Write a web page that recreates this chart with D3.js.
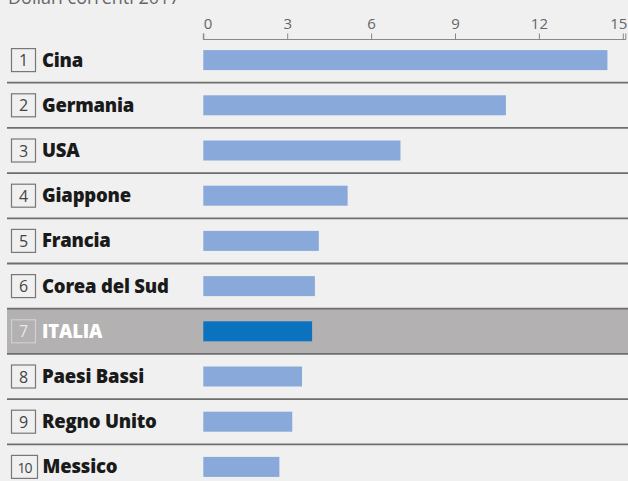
<!DOCTYPE html>
<html>
<head>
<meta charset="utf-8">
<script src="https://cdn.jsdelivr.net/npm/d3@7"></script>
<style>
  body { margin: 0; background: #f0f0f0; }
  svg { display: block; }
</style>
</head>
<body>
<div id="chart-area"></div>
<script>
// Dati: esportazioni, dollari correnti 2017
var ranks = [1, 2, 3, 4, 5, 6, 7, 8, 9, 10];
var countries = ["Cina", "Germania", "USA", "Giappone", "Francia", "Corea del Sud", "ITALIA", "Paesi Bassi", "Regno Unito", "Messico"];
var values = [14.45, 10.82, 7.05, 5.16, 4.13, 3.99, 3.89, 3.53, 3.18, 2.72];
var ticks = [0, 3, 6, 9, 12, 15];
var highlight = "ITALIA";
var subtitle = "Dollari correnti 2017";

var width = 628, height = 481;

var data = countries.map((c, i) => ({ rank: ranks[i], name: c, value: values[i] }));

var svg = d3.select("#chart-area")
	.append("svg")
		.attr("width", width)
		.attr("height", height);

svg.append("rect")
	.attr("width", width)
	.attr("height", height)
	.attr("fill", "#f0f0f0");

svg.append("text")
	.attr("x", 8)
	.attr("y", 4)
	.attr("font-family", "'Open Sans', sans-serif")
	.attr("font-size", "18px")
	.attr("fill", "#666")
	.text(subtitle);

var x = d3.scaleLinear()
	.domain([0, 15])
	.range([203.3, 622.8]);

var y = d3.scaleBand()
	.domain(countries)
	.range([37.5, 37.5 + 45.2 * countries.length])
	.padding(0);

// highlighted row
svg.append("rect")
	.attr("x", 7)
	.attr("y", y(highlight))
	.attr("width", width - 7)
	.attr("height", y.bandwidth())
	.attr("fill", "#b3b1b1");

// separators
svg.selectAll("line.sep")
	.data(countries.slice(0, -1))
	.enter()
	.append("line")
		.attr("class", "sep")
		.attr("x1", 7)
		.attr("x2", width)
		.attr("y1", d => y(d) + y.bandwidth())
		.attr("y2", d => y(d) + y.bandwidth())
		.attr("stroke", "#6e6e6e")
		.attr("stroke-width", 1.8);

// axis
var xAxis = d3.axisTop(x)
	.tickValues(ticks)
	.tickSize(6)
	.tickPadding(5);

var axisG = svg.append("g")
	.attr("transform", "translate(0, 39.5)")
	.call(xAxis);

axisG.select(".domain")
	.attr("d", `M${x(0)},-6V0H${x(15) + 3}V-6`)
	.attr("stroke", "#888");
axisG.selectAll(".tick line").attr("stroke", "#888");
axisG.selectAll(".tick text")
	.attr("font-family", "'Open Sans', sans-serif")
	.attr("font-size", "15px")
	.attr("fill", "#666")
	.attr("text-anchor", d => d === 0 ? "start" : d === 15 ? "end" : "middle")
	.attr("dx", d => d === 15 ? "4" : "0");

// bars
svg.selectAll("rect.bar")
	.data(data)
	.enter()
	.append("rect")
		.attr("class", "bar")
		.attr("x", x(0))
		.attr("y", d => y(d.name) + y.bandwidth() / 2 - 10)
		.attr("width", d => x(d.value) - x(0))
		.attr("height", 20)
		.attr("fill", d => d.name === highlight ? "#0b72bf" : "#88a9da");

// rank boxes
var rows = svg.selectAll("g.row")
	.data(data)
	.enter()
	.append("g")
		.attr("class", "row")
		.attr("transform", d => `translate(0, ${y(d.name) + y.bandwidth() / 2})`);

rows.append("rect")
	.attr("x", 11.5)
	.attr("y", -11.5)
	.attr("width", d => d.rank === 10 ? 26 : 24)
	.attr("height", 23)
	.attr("fill", "none")
	.attr("stroke", d => d.name === highlight ? "#d0d0d0" : "#777")
	.attr("stroke-width", 1.2);

rows.append("text")
	.attr("x", d => d.rank === 10 ? 24.5 : 23.5)
	.attr("y", 6)
	.attr("text-anchor", "middle")
	.attr("font-family", "'Open Sans', sans-serif")
	.attr("font-size", d => d.rank === 10 ? "14px" : "16px")
	.attr("letter-spacing", d => d.rank === 10 ? "-1px" : "0")
	.attr("fill", d => d.name === highlight ? "#e8e8e8" : "#444")
	.text(d => d.rank);

rows.append("text")
	.attr("x", d => d.rank === 10 ? 42.5 : 42)
	.attr("y", 6.5)
	.attr("font-family", "'Open Sans', sans-serif")
	.attr("font-weight", "800")
	.attr("font-size", "18.5px")
	.attr("letter-spacing", "-0.2px")
	.attr("fill", d => d.name === highlight ? "#fff" : "#1a1a1a")
	.text(d => d.name);
</script>
</body>
</html>
